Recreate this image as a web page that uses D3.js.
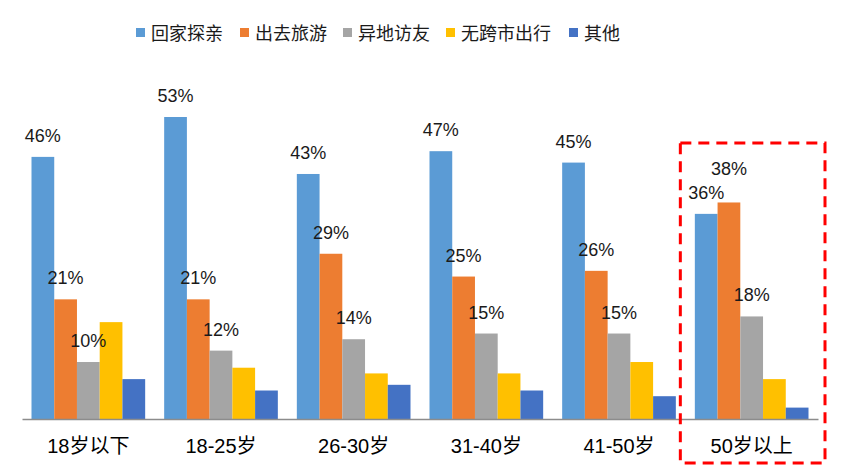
<!DOCTYPE html>
<html><head><meta charset="utf-8">
<script src="https://cdn.jsdelivr.net/npm/d3@7/dist/d3.min.js"></script>
<style>body{margin:0;background:#fff;} svg{display:block;}</style>
</head><body><svg id="c" width="841" height="466"></svg>
<script>
const categories = ["18岁以下","18-25岁","26-30岁","31-40岁","41-50岁","50岁以上"];
const seriesNames = ["回家探亲","出去旅游","异地访友","无跨市出行","其他"];
const colors = ["#5B9BD5","#ED7D31","#A5A5A5","#FFC000","#4472C4"];
const visitFamily = [46,53,43,47,45,36];
const travel = [21,21,29,25,26,38];
const visitFriends = [10,12,14,15,15,18];
const noTravel = [17,9,8,8,10,7];
const other = [7,5,6,5,4,2];
const labelledSeries = [0,1,2];

const values = [visitFamily, travel, visitFriends, noTravel, other];
const svg = d3.select("#c");
const font = "'Liberation Sans','Noto Sans CJK SC',sans-serif";

const x0 = d3.scaleBand().domain(categories).range([22, 818]).paddingInner(0).paddingOuter(0);
const step = x0.bandwidth();
const x1 = d3.scaleBand().domain(seriesNames).range([9.5, step - 9.5]).padding(0);
const y = d3.scaleLinear().domain([0, 53]).range([419, 117]);

// bars
const g = svg.append("g");
categories.forEach((c, ci) => {
  seriesNames.forEach((s, si) => {
    g.append("rect")
      .attr("x", x0(c) + x1(s))
      .attr("y", y(values[si][ci]))
      .attr("width", x1.bandwidth())
      .attr("height", y(0) - y(values[si][ci]))
      .attr("fill", colors[si]);
  });
});

// axis
const xAxis = d3.axisBottom(x0).tickSize(0).tickPadding(20);
const ax = svg.append("g").attr("transform", `translate(0,${y(0)})`).call(xAxis);
ax.select(".domain").attr("stroke", "#8C8C8C").attr("stroke-width", 1.5);
ax.selectAll("text").attr("font-family", font).attr("font-size", 20).attr("fill", "#000");

// labels with simple collision avoidance
categories.forEach((c, ci) => {
  let prev = null;
  labelledSeries.forEach(si => {
    const v = values[si][ci];
    const cx = x0(c) + x1(seriesNames[si]) + x1.bandwidth() / 2;
    let by = y(v) - 15;
    if (prev && Math.abs(cx - prev.x) < 40 && prev.y - by < 24 && by - prev.y < 24) {
      by = prev.y - 24;
    }
    svg.append("text").attr("x", cx).attr("y", by)
      .attr("text-anchor", "middle").attr("font-family", font).attr("font-size", 18)
      .attr("fill", "#1a1a1a").text(v + "%");
    prev = {x: cx, y: by};
  });
});

// legend
const legendX = [136, 240, 343, 446, 569];
seriesNames.forEach((s, i) => {
  svg.append("rect").attr("x", legendX[i]).attr("y", 28).attr("width", 9).attr("height", 9).attr("fill", colors[i]);
  svg.append("text").attr("x", legendX[i] + 15).attr("y", 39.5)
    .attr("font-family", font).attr("font-size", 18).attr("fill", "#1a1a1a").text(s);
});

// highlight box
const hx = x0(categories[5]);
svg.append("rect").attr("x", hx - 5).attr("y", 143).attr("width", step + 12).attr("height", 320)
  .attr("fill", "none").attr("stroke", "#FF0000").attr("stroke-width", 3)
  .attr("stroke-dasharray", "11,7");
</script></body></html>
